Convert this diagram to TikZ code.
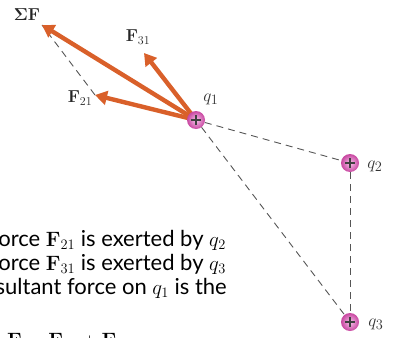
\documentclass[tikz,border=0pt]{standalone}
\usepackage[no-math]{fontspec}
\setmainfont{Lato}
\usetikzlibrary{arrows.meta}
\definecolor{forcecol}{RGB}{217,96,42}
\definecolor{chargeout}{RGB}{200,70,160}
\definecolor{chargein}{RGB}{248,196,236}
\definecolor{dashcol}{RGB}{85,85,85}
\tikzset{
  force/.style={draw=forcecol, line width=4.4pt, -{Triangle[width=14pt,length=12pt]}},
  conn/.style={draw=dashcol, line width=0.9pt, dash pattern=on 7pt off 5pt},
  charge/.style={circle, minimum size=18pt, inner sep=0pt, shading=radial,
    inner color=chargein, outer color=chargeout,
    path picture={\draw[black!75, line width=1.1pt]
      ([xshift=-5pt]path picture bounding box.center) -- ([xshift=5pt]path picture bounding box.center)
      ([yshift=-5pt]path picture bounding box.center) -- ([yshift=5pt]path picture bounding box.center);}},
  qlabel/.style={font=\fontsize{19}{19}\selectfont, text=black!80},
  flabel/.style={font=\fontsize{18}{18}\selectfont, text=black!85},
  body/.style={font=\fontsize{22}{22}\selectfont, inner sep=0pt}
}
\begin{document}
\begin{tikzpicture}[x=1pt,y=-1pt]
\clip (0,0) rectangle (398,337);
\coordinate (c1) at (196,120);
\coordinate (c2) at (350,163);
\coordinate (c3) at (350,322);
\coordinate (f21) at (95,95);
\coordinate (f31) at (144,53);
\coordinate (fs) at (42,25);
% parallelogram completion
\draw[conn] (f21) -- (fs);
% forces
\draw[force] (c1) -- (fs);
\draw[force] (c1) -- (f31);
\draw[force] (c1) -- (f21);
% charges
\node[charge] (q1) at (c1) {};
\node[charge] (q2) at (c2) {};
\node[charge] (q3) at (c3) {};
\draw[conn] (q1) -- (q2);
\draw[conn] (q2) -- (q3);
\draw[conn] (q1) -- (q3);
% labels
\node[qlabel] (l1) at (211,99) {$q_1$};
\node[qlabel] (l2) at (375,166) {$q_2$};
\node[qlabel] (l3) at (376,324) {$q_3$};
\node[flabel] (lf31) at (138,37) {$\mathbf{F}_{31}$};
\node[flabel] (lf21) at (80,98) {$\mathbf{F}_{21}$};
\node[flabel] (lfs) at (27,15) {$\mathbf{\Sigma F}$};
% text
\node[body, anchor=base east] (t1) at (226,246) {force $\mathbf{F}_{21}$ is exerted by $q_2$};
\node[body, anchor=base east] (t2) at (226,270) {force $\mathbf{F}_{31}$ is exerted by $q_3$};
\node[body, anchor=base east] (t3) at (227,294) {resultant force on $q_1$ is the};
\node[body, anchor=base west] (t4) at (7,347) {$\mathbf{F} = \mathbf{F}_{21} + \mathbf{F}_{31}$};
\end{tikzpicture}
\end{document}
